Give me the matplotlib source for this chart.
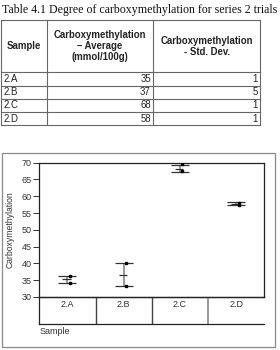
import matplotlib
matplotlib.use("Agg")
import matplotlib.pyplot as plt
from matplotlib.lines import Line2D
from matplotlib.patches import Rectangle

# ---- data ----
title = "Table 4.1 Degree of carboxymethylation for series 2 trials"
col_headers = ["Sample", "Carboxymethylation\n– Average\n(mmol/100g)", "Carboxymethylation\n- Std. Dev."]
samples = ["2.A", "2.B", "2.C", "2.D"]
table_avg = [35, 37, 68, 58]
table_std = [1, 5, 1, 1]

chart_means = [35.3, 36.6, 68.2, 57.8]
chart_err = [1.0, 3.4, 1.0, 0.4]
point_hi = [36.3, 40.2, 69.5, 58.1]
point_lo = [34.3, 33.3, 67.5, 57.5]
yticks = [30, 35, 40, 45, 50, 55, 60, 65, 70]
ylabel = "Carboxymethylation"
xlabel = "Sample"

W, H = 280, 350
fig = plt.figure(figsize=(W / 100, H / 100), dpi=100)

def fx(x):
    return x / W

def fy(y):
    return 1 - y / H

# overlay axes in pixel coords for table + frame
ov = fig.add_axes([0, 0, 1, 1])
ov.set_xlim(0, W)
ov.set_ylim(H, 0)
ov.axis("off")

sans = "Liberation Sans"
tc = "#666666"
ov.text(140, 10, title, family="Liberation Serif", fontsize=8.6, ha="center", va="center", color="#111")

# table grid
col_x = [1, 46.7, 153.3, 260]
row_y = [20, 72.3, 85.5, 98.8, 112, 125]
for x in col_x:
    ov.add_line(Line2D([x, x], [row_y[0], row_y[-1]], color=tc, lw=0.8))
for y in row_y:
    ov.add_line(Line2D([col_x[0], col_x[-1]], [y, y], color=tc, lw=0.8))

hy = (row_y[0] + row_y[1]) / 2
for i, h in enumerate(col_headers):
    cx = (col_x[i] + col_x[i + 1]) / 2
    ov.text(cx, hy, h, family=sans, fontsize=6.9, fontweight="bold", ha="center", va="center",
            linespacing=1.1, color="#222")
for r, (s, a, d) in enumerate(zip(samples, table_avg, table_std)):
    cy = (row_y[r + 1] + row_y[r + 2]) / 2
    ov.text(col_x[0] + 2.5, cy, s, family=sans, fontsize=6.9, ha="left", va="center", color="#222")
    ov.text(col_x[2] - 2.5, cy, str(a), family=sans, fontsize=6.9, ha="right", va="center", color="#222")
    ov.text(col_x[3] - 2.5, cy, str(d), family=sans, fontsize=6.9, ha="right", va="center", color="#222")

# chart frame
ov.add_patch(Rectangle((2, 153), 273, 194, fill=False, ec="#8a8a8a", lw=0.9))

# main axes
ax_l, ax_r = 39.3, 264.3
ax_t, ax_b = 162.7, 297
cat_b = 323.7
ax = fig.add_axes([fx(ax_l), fy(ax_b), (ax_r - ax_l) / W, (ax_b - ax_t) / H])
ax.set_xlim(-0.5, len(samples) - 0.5)
ax.set_ylim(30, 70)
ax.set_yticks(yticks)
ax.set_yticklabels([str(t) for t in yticks], family=sans, fontsize=6.5, color="#333")
ax.set_xticks([])
ax.tick_params(axis="y", length=4.5, width=0.7, pad=1, color="#333")
for sp in ax.spines.values():
    sp.set_color("#222")
    sp.set_linewidth(0.9)
ax.set_ylabel(ylabel, family=sans, fontsize=6.2, color="#333", labelpad=5)

xs = list(range(len(samples)))
lo = [m - e for m, e in zip(chart_means, chart_err)]
hi = [m + e for m, e in zip(chart_means, chart_err)]
ax.vlines(xs, lo, hi, color="#888888", lw=1.2, zorder=2)
ax.hlines(hi, [x - 0.16 for x in xs], [x + 0.16 for x in xs], color="#333", lw=0.9, zorder=3)
ax.hlines(lo, [x - 0.16 for x in xs], [x + 0.16 for x in xs], color="#333", lw=0.9, zorder=3)
ax.hlines(chart_means, [x - 0.09 for x in xs], [x + 0.06 for x in xs], color="#333", lw=0.9, zorder=3)
px = [x + 0.045 for x in xs]
ax.plot(px, point_hi, "s", color="black", ms=1.8, zorder=4)
ax.plot(px, point_lo, "s", color="black", ms=1.8, zorder=4)

# category box
cax = fig.add_axes([fx(ax_l), fy(cat_b), (ax_r - ax_l) / W, (cat_b - ax_b) / H])
cax.set_xlim(-0.5, len(samples) - 0.5)
cax.set_ylim(0, 1)
cax.set_xticks([])
cax.set_yticks([])
cax.patch.set_visible(False)
for k, sp in cax.spines.items():
    sp.set_color("#222")
    sp.set_linewidth(0.9)
cax.spines["right"].set_visible(False)
for i in range(1, len(samples)):
    cax.axvline(i - 0.5, color="#444" if i != 3 else "#999", lw=1.0 if i != 3 else 1.4)
for i, s in enumerate(samples):
    cax.text(i, 0.72, s, family=sans, fontsize=6.5, ha="center", va="center", color="#333")

ov.text(40, 332, xlabel, family=sans, fontsize=6.5, ha="left", va="center", color="#333")

fig.savefig("out.png", dpi=100)
